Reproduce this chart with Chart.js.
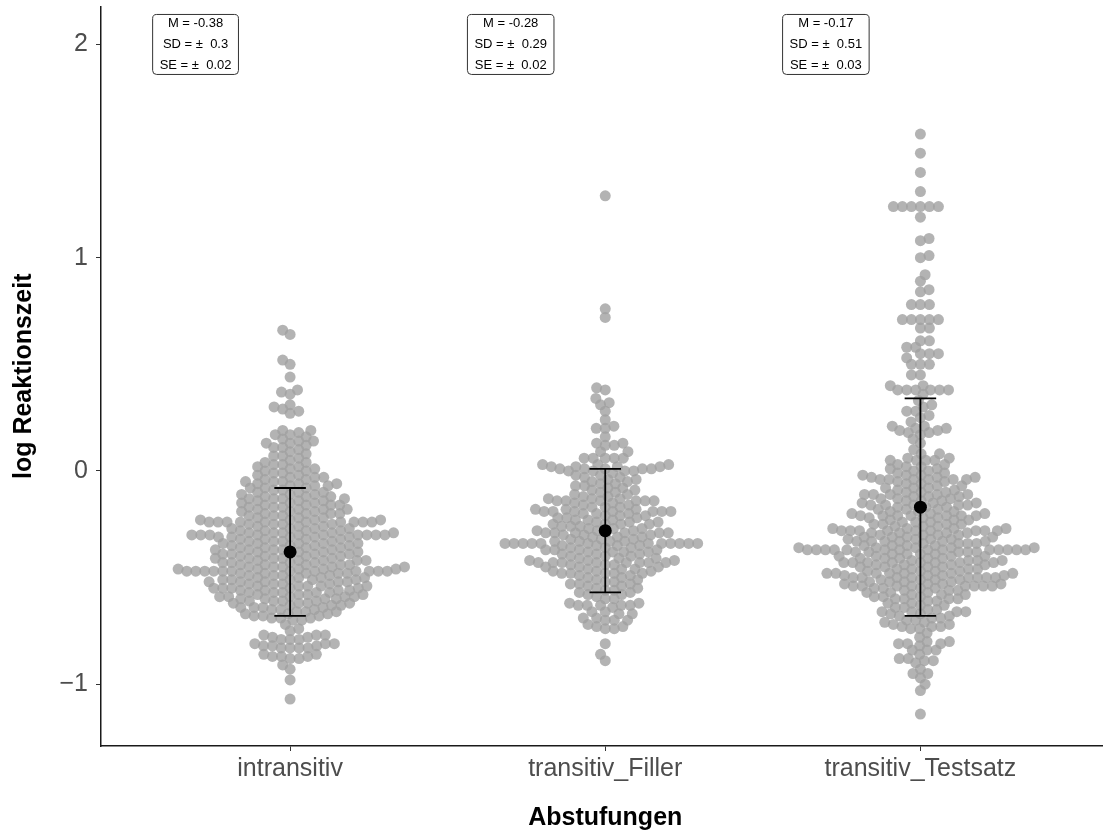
<!DOCTYPE html>
<html>
<head>
<meta charset="utf-8">
<script src="https://cdn.jsdelivr.net/npm/chart.js"></script>
<style>
  html, body { margin: 0; padding: 0; background: #fff; overflow: hidden; }
  #wrap { position: relative; width: 1116px; height: 835px; }
</style>
</head>
<body>
<div id="wrap"><canvas id="swarm"></canvas></div>
<script>
var categories = ["intransitiv", "transitiv_Filler", "transitiv_Testsatz"];
var means = [-0.38, -0.28, -0.17];
var sds = [0.3, 0.29, 0.51];
var ses = [0.02, 0.02, 0.03];
var yTicks = [-1, 0, 1, 2];

var intransitivValues = [0.66, 0.64, 0.52, 0.50, 0.44, 0.38, 0.37, 0.36, 0.31, 0.30, 0.29, 0.28, 0.27,
    0.19, 0.18, 0.17, 0.16, 0.15, 0.14, 0.13, 0.12, 0.11, 0.10,
    0.09, 0.08, 0.07, 0.06, 0.05, 0.04, 0.03, 0.02, 0.01, 0.00,
    -0.01, -0.02, -0.03, -0.04, -0.05, -0.06, -0.07, -0.08, -0.09, -0.10,
    -0.11, -0.12, -0.13, -0.14, -0.15, -0.16, -0.17, -0.18, -0.19, -0.20,
    -0.21, -0.22, -0.23, -0.24, -0.25, -0.26, -0.27, -0.28, -0.29, -0.30,
    -0.31, -0.32, -0.33, -0.34, -0.35, -0.36, -0.37, -0.38, -0.39, -0.40,
    -0.41, -0.42, -0.43, -0.44, -0.45, -0.46, -0.47, -0.48, -0.49, -0.50,
    -0.51, -0.52, -0.53, -0.54, -0.55, -0.56, -0.57, -0.58, -0.59, -0.60,
    -0.61, -0.62, -0.63, -0.64, -0.65, -0.66, -0.67, -0.68, -0.69, -0.70,
    -0.72, -0.74, -0.75, -0.77, -0.78, -0.79, -0.81, -0.82, -0.83, -0.86, -0.87, -0.88,
    -0.91, -0.93, -0.98, -1.07];
var intransitivCounts = [1, 1, 1, 1, 1, 1, 1, 1, 1, 1, 1, 1, 1,
    2, 1, 2, 1, 1, 2, 2, 1, 2, 1,
    1, 1, 2, 1, 1, 2, 2, 2, 2, 2,
    2, 2, 3, 2, 3, 3, 3, 3, 2, 3,
    3, 3, 4, 3, 3, 4, 3, 4, 3, 4,
    3, 3, 4, 10, 4, 3, 4, 4, 5, 10,
    5, 4, 4, 5, 4, 4, 5, 4, 5, 4,
    5, 5, 4, 5, 5, 5, 12, 5, 4, 4,
    5, 5, 4, 5, 5, 4, 5, 4, 5, 4,
    4, 4, 3, 4, 3, 3, 3, 3, 3, 2,
    1, 1, 1, 3, 2, 3, 3, 3, 4, 2, 3, 2,
    1, 1, 1, 1];

var fillerValues = [1.29, 0.76, 0.72, 0.39, 0.38, 0.34, 0.32, 0.31, 0.28, 0.24, 0.21, 0.20, 0.16,
    0.13, 0.12, 0.09, 0.06, 0.03, 0.02, 0.01, 0.00,
    -0.01, -0.02, -0.03, -0.04, -0.05, -0.06, -0.07, -0.08, -0.09, -0.10,
    -0.11, -0.12, -0.13, -0.14, -0.15, -0.16, -0.17, -0.18, -0.19, -0.20,
    -0.21, -0.22, -0.23, -0.24, -0.25, -0.26, -0.27, -0.28, -0.29, -0.30,
    -0.31, -0.32, -0.33, -0.34, -0.35, -0.36, -0.37, -0.38, -0.39, -0.40,
    -0.41, -0.42, -0.43, -0.44, -0.45, -0.46, -0.47, -0.48, -0.49, -0.50,
    -0.51, -0.52, -0.53, -0.54, -0.55, -0.56, -0.57, -0.58, -0.59, -0.60,
    -0.62, -0.63, -0.64, -0.66, -0.67, -0.69, -0.70, -0.72, -0.73, -0.74,
    -0.81, -0.86, -0.89];
var fillerCounts = [1, 1, 1, 1, 1, 1, 1, 1, 1, 1, 1, 2, 1,
    2, 2, 2, 5, 3, 4, 5, 4,
    1, 2, 2, 2, 2, 2, 2, 2, 2, 2,
    2, 2, 3, 6, 2, 2, 3, 3, 7, 3,
    3, 3, 3, 3, 4, 3, 3, 3, 7, 3,
    3, 3, 4, 12, 4, 3, 4, 4, 3, 3,
    3, 3, 8, 3, 3, 3, 3, 5, 2, 2,
    2, 2, 3, 2, 2, 2, 2, 2, 1, 2,
    2, 5, 1, 2, 2, 2, 3, 1, 2, 2,
    1, 1, 1];

var testsatzValues = [1.58, 1.49, 1.40, 1.31, 1.24, 1.19, 1.09, 1.08, 1.01, 1.00, 0.92, 0.89, 0.85, 0.84,
    0.78, 0.71, 0.67, 0.61, 0.58, 0.55, 0.53, 0.50, 0.45, 0.40, 0.38, 0.36,
    0.33, 0.31, 0.30, 0.28, 0.26, 0.25, 0.23, 0.21, 0.20, 0.19, 0.18, 0.17, 0.15, 0.13,
    0.10, 0.08, 0.06, 0.05, 0.03, 0.02, 0.01, 0.00,
    -0.01, -0.02, -0.03, -0.04, -0.05, -0.06, -0.07, -0.08, -0.09, -0.10,
    -0.11, -0.12, -0.13, -0.14, -0.15, -0.16, -0.17, -0.18, -0.19, -0.20,
    -0.21, -0.22, -0.23, -0.24, -0.25, -0.26, -0.27, -0.28, -0.29, -0.30,
    -0.31, -0.32, -0.33, -0.34, -0.35, -0.36, -0.37, -0.38, -0.39, -0.40,
    -0.41, -0.42, -0.43, -0.44, -0.45, -0.46, -0.47, -0.48, -0.49, -0.50,
    -0.51, -0.52, -0.53, -0.54, -0.55, -0.56, -0.57, -0.58, -0.59, -0.60,
    -0.61, -0.62, -0.63, -0.64, -0.65, -0.66, -0.67, -0.68, -0.69, -0.70,
    -0.71, -0.72, -0.73, -0.74, -0.76, -0.78, -0.80, -0.81, -0.82, -0.84, -0.86, -0.88, -0.89, -0.90,
    -0.93, -0.95, -0.97, -1.00, -1.03, -1.14];
var testsatzCounts = [1, 1, 1, 1, 6, 1, 1, 1, 1, 1, 1, 1, 1, 1,
    3, 5, 2, 2, 2, 3, 1, 3, 2, 2, 6, 1,
    1, 1, 1, 2, 1, 1, 1, 2, 2, 2, 2, 1, 1, 1,
    1, 2, 2, 4, 2, 2, 2, 2,
    2, 3, 3, 6, 2, 2, 2, 3, 2, 3,
    5, 3, 3, 3, 3, 5, 3, 3, 3, 3,
    7, 3, 3, 3, 4, 3, 4, 9, 4, 4,
    4, 4, 6, 4, 4, 5, 14, 5, 4, 4,
    5, 4, 8, 4, 4, 4, 4, 7, 4, 8,
    4, 4, 4, 8, 4, 3, 3, 3, 3, 4,
    2, 2, 2, 2, 2, 4, 2, 2, 2, 2,
    2, 2, 3, 2, 1, 1, 2, 3, 1, 3, 1, 2, 2, 1,
    1, 2, 1, 1, 1, 1];

var groupValues = [intransitivValues, fillerValues, testsatzValues];
var groupCounts = [intransitivCounts, fillerCounts, testsatzCounts];

function expand(values, counts) {
    var out = [];
    values.forEach(function (v, i) {
        for (var k = 0; k < counts[i]; k++) out.push(v);
    });
    return out.sort(function (a, b) { return a - b; });
}

// swarm placement in pixel space: nearest free spot to the centre line.
// vertical gaps count a bit more (k) so dense parts overlap like the original
function swarmOffsets(pys, d, k) {
    var placed = [], offs = [];
    pys.forEach(function (y, i) {
        var cands = [0];
        placed.forEach(function (p) {
            var dy = k * Math.abs(p.y - y);
            if (dy < d) {
                var dx = Math.sqrt(d * d - dy * dy);
                cands.push(p.x - dx, p.x + dx);
            }
        });
        var side = i % 2 ? 1 : -1;
        cands.sort(function (a, b) {
            return (Math.abs(a) - Math.abs(b)) || (a - b) * side;
        });
        var x = 0;
        for (var c = 0; c < cands.length; c++) {
            var ok = placed.every(function (p) {
                var dx = p.x - cands[c], dy = k * (p.y - y);
                return dx * dx + dy * dy >= d * d - 0.01;
            });
            if (ok) { x = cands[c]; break; }
        }
        placed.push({ x: x, y: y });
        offs.push(x);
    });
    return offs;
}

var datasets = [{
    label: "points",
    data: [],
    backgroundColor: "rgba(160,160,160,0.8)",
    borderWidth: 0,
    pointRadius: 5.5,
    order: 5
}];

categories.forEach(function (c, i) {
    datasets.push({
        label: "sd " + c,
        data: [{ x: i + 1, y: means[i] - sds[i] }, { x: i + 1, y: means[i] + sds[i] }],
        showLine: true, borderColor: "#000", borderWidth: 1.8, pointRadius: 0, order: 2
    });
    [means[i] - sds[i], means[i] + sds[i]].forEach(function (v) {
        datasets.push({
            label: "cap " + c,
            data: [{ x: i + 1 - 0.05, y: v }, { x: i + 1 + 0.05, y: v }],
            showLine: true, borderColor: "#000", borderWidth: 1.8, pointRadius: 0, order: 2
        });
    });
});

datasets.push({
    label: "means",
    data: means.map(function (m, i) { return { x: i + 1, y: m }; }),
    backgroundColor: "#000", borderWidth: 0, pointRadius: 6.5, order: 0
});

var statBoxes = {
    id: "statBoxes",
    afterDraw: function (chart) {
        var ctx = chart.ctx, xs = chart.scales.x, ys = chart.scales.y;
        ctx.save();
        ctx.font = "13px 'Liberation Sans', Arial, sans-serif";
        categories.forEach(function (c, i) {
            var lines = ["M = " + means[i].toFixed(2), "SD = \u00b1  " + sds[i], "SE = \u00b1  " + ses[i]];
            var tw = Math.max.apply(null, lines.map(function (l) { return ctx.measureText(l).width; }));
            var cx = xs.getPixelForValue(i + 1 - 0.3), cy = ys.getPixelForValue(2.0);
            var w = tw + 14, h = 60, x0 = cx - w / 2, y0 = cy - h / 2, r = 4;
            ctx.beginPath();
            ctx.moveTo(x0 + r, y0);
            ctx.arcTo(x0 + w, y0, x0 + w, y0 + h, r);
            ctx.arcTo(x0 + w, y0 + h, x0, y0 + h, r);
            ctx.arcTo(x0, y0 + h, x0, y0, r);
            ctx.arcTo(x0, y0, x0 + w, y0, r);
            ctx.closePath();
            ctx.fillStyle = "#fff";
            ctx.fill();
            ctx.strokeStyle = "#333";
            ctx.lineWidth = 1;
            ctx.stroke();
            ctx.fillStyle = "#000";
            ctx.textAlign = "center";
            ctx.textBaseline = "middle";
            lines.forEach(function (l, k) {
                ctx.fillText(l, cx, cy + (k - 1) * 21);
            });
        });
        ctx.restore();
    }
};

var ctx = document.getElementById("swarm");
var chart = new Chart(ctx, {
    type: "scatter",
    data: { datasets: datasets },
    plugins: [statBoxes],
    options: {
        responsive: true,
        maintainAspectRatio: false,
        animation: false,
        events: [],
        layout: { padding: { top: 6, right: 0, left: 0, bottom: 0 } },
        plugins: { legend: { display: false }, tooltip: { enabled: false } },
        scales: {
            x: {
                type: "linear", min: 0.4, max: 3.6,
                afterBuildTicks: function (scale) {
                    scale.ticks = categories.map(function (c, i) { return { value: i + 1 }; });
                },
                afterFit: function (scale) { scale.height = 89; },
                ticks: {
                    color: "#4d4d4d", padding: 3,
                    font: { family: "'Liberation Sans', Arial, sans-serif", size: 25 },
                    callback: function (v) { return categories[v - 1]; }
                },
                grid: { drawOnChartArea: false, drawTicks: true, tickLength: 5, tickColor: "#333" },
                border: { display: true, color: "#1a1a1a", width: 1.5 },
                title: {
                    display: true, text: "Abstufungen", color: "#000",
                    font: { family: "'Liberation Sans', Arial, sans-serif", size: 25, weight: "bold" },
                    padding: { top: 0, bottom: 2 }
                }
            },
            y: {
                type: "linear", min: -1.29, max: 2.178,
                afterBuildTicks: function (scale) {
                    scale.ticks = yTicks.map(function (v) { return { value: v }; });
                },
                afterFit: function (scale) {
                    scale.width = 101;
                    scale.paddingTop = 0;
                    scale.paddingBottom = 0;
                },
                ticks: {
                    color: "#4d4d4d", padding: 8,
                    font: { family: "'Liberation Sans', Arial, sans-serif", size: 25 },
                    callback: function (v) { return v < 0 ? "\u2212" + Math.abs(v) : String(v); }
                },
                grid: { drawOnChartArea: false, drawTicks: true, tickLength: 5, tickColor: "#333" },
                border: { display: true, color: "#1a1a1a", width: 1.5 },
                title: {
                    display: true, text: "log Reaktionszeit", color: "#000",
                    font: { family: "'Liberation Sans', Arial, sans-serif", size: 25, weight: "bold" },
                    padding: { top: 9, bottom: 0 }
                }
            }
        }
    }
});

// place the swarm once the scales know their pixel sizes
var xs = chart.scales.x, ys = chart.scales.y;
var unit = xs.getPixelForValue(2) - xs.getPixelForValue(1);
categories.forEach(function (c, gi) {
    var vals = expand(groupValues[gi], groupCounts[gi]);
    var offs = swarmOffsets(vals.map(function (v) { return ys.getPixelForValue(v); }), 9, 1.2);
    vals.forEach(function (v, k) {
        chart.data.datasets[0].data.push({ x: gi + 1 + offs[k] / unit, y: v });
    });
});
chart.update("none");
</script>
</body>
</html>
